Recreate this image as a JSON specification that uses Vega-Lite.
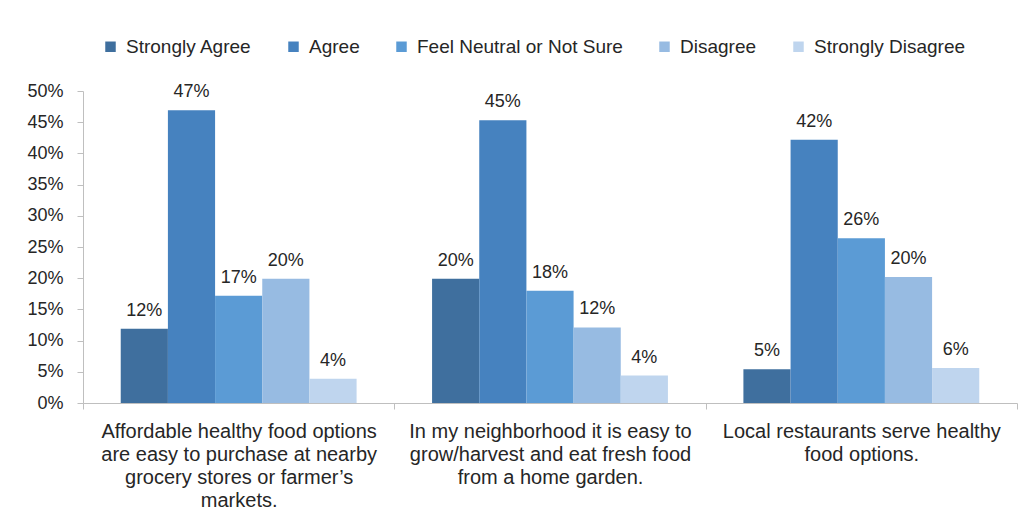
{
  "$schema": "https://vega.github.io/schema/vega-lite/v6.json",
  "width": 934,
  "height": 312,
  "autosize": {"type": "none"},
  "padding": {"left": 83, "top": 91, "right": 12, "bottom": 129},
  "background": "white",
  "data": {
    "values": [
      {"q": "Affordable healthy food options|are easy to purchase at nearby|grocery stores or farmer’s|markets.", "r": "Strongly Agree", "v": 0.119, "t": "12%"},
      {"q": "Affordable healthy food options|are easy to purchase at nearby|grocery stores or farmer’s|markets.", "r": "Agree", "v": 0.469, "t": "47%"},
      {"q": "Affordable healthy food options|are easy to purchase at nearby|grocery stores or farmer’s|markets.", "r": "Feel Neutral or Not Sure", "v": 0.172, "t": "17%"},
      {"q": "Affordable healthy food options|are easy to purchase at nearby|grocery stores or farmer’s|markets.", "r": "Disagree", "v": 0.199, "t": "20%"},
      {"q": "Affordable healthy food options|are easy to purchase at nearby|grocery stores or farmer’s|markets.", "r": "Strongly Disagree", "v": 0.039, "t": "4%"},
      {"q": "In my neighborhood it is easy to|grow/harvest and eat fresh food|from a home garden.", "r": "Strongly Agree", "v": 0.199, "t": "20%"},
      {"q": "In my neighborhood it is easy to|grow/harvest and eat fresh food|from a home garden.", "r": "Agree", "v": 0.453, "t": "45%"},
      {"q": "In my neighborhood it is easy to|grow/harvest and eat fresh food|from a home garden.", "r": "Feel Neutral or Not Sure", "v": 0.18, "t": "18%"},
      {"q": "In my neighborhood it is easy to|grow/harvest and eat fresh food|from a home garden.", "r": "Disagree", "v": 0.121, "t": "12%"},
      {"q": "In my neighborhood it is easy to|grow/harvest and eat fresh food|from a home garden.", "r": "Strongly Disagree", "v": 0.044, "t": "4%"},
      {"q": "Local restaurants serve healthy|food options.", "r": "Strongly Agree", "v": 0.054, "t": "5%"},
      {"q": "Local restaurants serve healthy|food options.", "r": "Agree", "v": 0.422, "t": "42%"},
      {"q": "Local restaurants serve healthy|food options.", "r": "Feel Neutral or Not Sure", "v": 0.264, "t": "26%"},
      {"q": "Local restaurants serve healthy|food options.", "r": "Disagree", "v": 0.202, "t": "20%"},
      {"q": "Local restaurants serve healthy|food options.", "r": "Strongly Disagree", "v": 0.056, "t": "6%"}
    ]
  },
  "encoding": {
    "x": {
      "field": "q", "type": "nominal", "sort": null, "title": null,
      "scale": {"paddingInner": 0, "paddingOuter": 0},
      "axis": {
        "labelAngle": 0, "labelExpr": "split(datum.label, '|')",
        "labelFont": "Liberation Sans", "labelFontSize": 20, "labelLineHeight": 23,
        "labelColor": "#262626", "labelBaseline": "top", "labelPadding": 12,
        "labelLimit": 400,
        "tickBand": "extent", "tickSize": 6, "tickColor": "#bfbfbf",
        "domainColor": "#bfbfbf"
      }
    },
    "xOffset": {
      "field": "r", "type": "nominal",
      "sort": ["Strongly Agree", "Agree", "Feel Neutral or Not Sure", "Disagree", "Strongly Disagree"],
      "scale": {"paddingInner": 0, "paddingOuter": 0.8}
    },
    "y": {
      "field": "v", "type": "quantitative", "title": null,
      "scale": {"domain": [0, 0.5], "nice": false},
      "axis": {
        "values": [0, 0.05, 0.1, 0.15, 0.2, 0.25, 0.3, 0.35, 0.4, 0.45, 0.5],
        "format": ".0%", "grid": false,
        "labelFont": "Liberation Sans", "labelFontSize": 18, "labelColor": "#262626",
        "labelPadding": 14, "tickSize": 6, "tickColor": "#bfbfbf", "domainColor": "#bfbfbf"
      }
    }
  },
  "layer": [
    {
      "mark": {"type": "bar"},
      "encoding": {
        "color": {
          "field": "r", "type": "nominal", "title": null,
          "sort": ["Strongly Agree", "Agree", "Feel Neutral or Not Sure", "Disagree", "Strongly Disagree"],
          "scale": {
            "domain": ["Strongly Agree", "Agree", "Feel Neutral or Not Sure", "Disagree", "Strongly Disagree"],
            "range": ["#3f6f9e", "#4682bf", "#5b9bd5", "#97bbe2", "#bfd5ee"]
          },
          "legend": {
            "orient": "none", "legendX": 18, "legendY": -54, "direction": "horizontal",
            "symbolType": "square", "symbolSize": 110, "symbolStrokeWidth": 0,
            "labelFont": "Liberation Sans", "labelFontSize": 19, "labelColor": "#262626",
            "labelOffset": 6, "columnPadding": 32, "labelLimit": 400
          }
        }
      }
    },
    {
      "mark": {"type": "text", "baseline": "alphabetic", "dy": -13, "font": "Liberation Sans", "fontSize": 18, "color": "#262626"},
      "encoding": {"text": {"field": "t"}}
    }
  ],
  "config": {
    "view": {"stroke": null}
  }
}
